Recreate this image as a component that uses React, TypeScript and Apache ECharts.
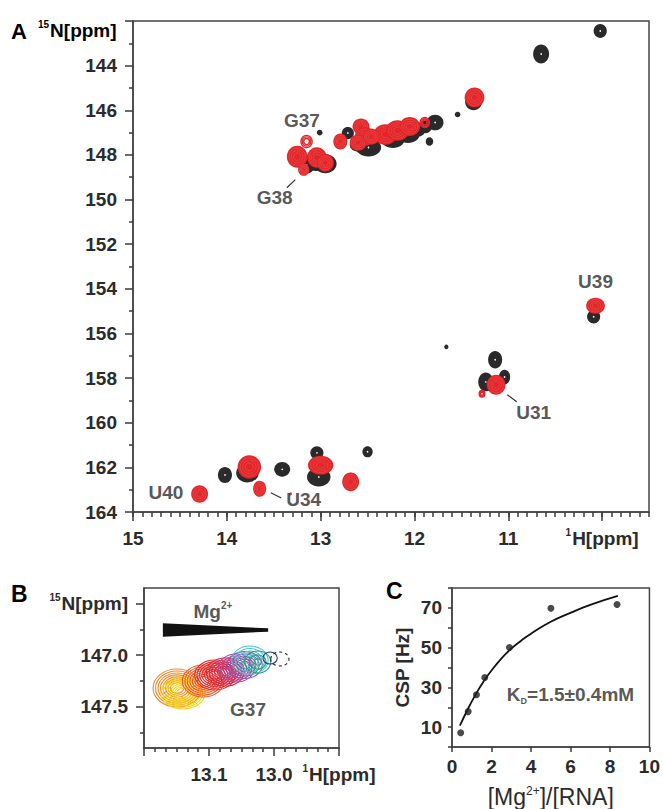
import React, { useEffect, useRef } from 'react';
import * as echarts from 'echarts';

// ---------- Panel A : 1H-15N HSQC overlay ----------
const aXLabels = [10, 11, 12, 13, 14, 15];
const aYLabels = [144, 146, 148, 150, 152, 154, 156, 158, 160, 162, 164];

// [1H ppm, 15N ppm, width 1H ppm, width 15N ppm]
const blackPeaks = [
  [10.02, 142.45, 0.14, 0.62],
  [10.65, 143.48, 0.17, 0.85],
  [11.37, 145.62, 0.18, 0.75],
  [11.54, 146.19, 0.06, 0.25],
  [11.78, 146.55, 0.18, 0.7],
  [11.88, 146.75, 0.13, 0.55],
  [11.84, 147.4, 0.08, 0.38],
  [12.23, 147.31, 0.25, 0.75],
  [12.07, 147.09, 0.25, 0.75],
  [11.97, 146.86, 0.18, 0.65],
  [12.71, 147.02, 0.13, 0.55],
  [12.49, 147.67, 0.27, 0.8],
  [12.6, 147.55, 0.18, 0.62],
  [13.01, 147.0, 0.06, 0.26],
  [12.95, 148.4, 0.24, 0.85],
  [13.05, 148.3, 0.24, 0.85],
  [13.15, 148.45, 0.18, 0.75],
  [14.02, 162.34, 0.15, 0.72],
  [13.78, 162.25, 0.24, 0.85],
  [13.41, 162.09, 0.17, 0.66],
  [13.04, 161.35, 0.14, 0.6],
  [13.02, 162.43, 0.25, 0.85],
  [12.68, 162.6, 0.16, 0.72],
  [12.5, 161.3, 0.11, 0.5],
  [11.14, 157.18, 0.15, 0.78],
  [11.24, 158.17, 0.16, 0.85],
  [11.04, 157.95, 0.12, 0.65],
  [10.09, 155.25, 0.14, 0.6],
  [11.66, 156.6, 0.045, 0.22],
];

// [1H ppm, 15N ppm, width 1H, width 15N, filled(1)/open(0)]
const redPeaks = [
  [11.36, 145.43, 0.21, 0.9, 1],
  [11.89, 146.55, 0.1, 0.45, 0],
  [12.31, 147.09, 0.25, 0.92, 1],
  [12.18, 146.91, 0.25, 0.92, 1],
  [12.05, 146.73, 0.22, 0.85, 1],
  [12.57, 146.73, 0.18, 0.72, 1],
  [12.53, 147.18, 0.21, 0.85, 1],
  [12.6, 147.45, 0.18, 0.72, 1],
  [12.46, 147.18, 0.18, 0.72, 1],
  [12.79, 147.4, 0.15, 0.72, 1],
  [13.15, 147.4, 0.12, 0.55, 0],
  [13.25, 148.08, 0.22, 0.98, 1],
  [13.18, 148.66, 0.12, 0.55, 1],
  [13.04, 148.12, 0.21, 0.92, 1],
  [12.95, 148.35, 0.18, 0.8, 1],
  [14.29, 163.19, 0.18, 0.78, 1],
  [13.76, 161.98, 0.25, 1.05, 1],
  [13.65, 162.96, 0.14, 0.72, 1],
  [13.0, 161.9, 0.27, 0.85, 1],
  [12.68, 162.65, 0.18, 0.85, 1],
  [13.32, 163.19, 0.03, 0.12, 1],
  [11.13, 158.3, 0.2, 0.9, 1],
  [11.28, 158.7, 0.06, 0.3, 0],
  [10.07, 154.76, 0.2, 0.72, 1],
];

const peakLabelNames = ['G37', 'G38', 'U40', 'U34', 'U31', 'U39'];
const peakLabelH = [13.2, 13.49, 14.65, 13.18, 10.73, 10.07];
const peakLabelN = [146.46, 149.91, 163.14, 163.46, 159.55, 153.68];
// [H1, N1, H2, N2]
const leaderLines = [
  [13.36, 149.47, 13.27, 149.11],
  [13.53, 163.14, 13.42, 163.37],
  [11.01, 158.75, 10.91, 159.06],
];

// ---------- Panel B : G37 titration ----------
const bXLabels = [12.9, 13.0, 13.1];
const bYLabels = [146.5, 147.0, 147.5];
const bYMinor = [146.75, 147.25, 147.75];
// [1H, 15N, half-width 1H, half-width 15N, contour levels]
const titrationPeaks = [
  [13.149, 147.319, 0.037, 0.184, 8],
  [13.14, 147.367, 0.034, 0.155, 8],
  [13.109, 147.251, 0.032, 0.155, 7],
  [13.091, 147.193, 0.031, 0.145, 7],
  [13.075, 147.164, 0.029, 0.136, 6],
  [13.058, 147.125, 0.028, 0.136, 6],
  [13.045, 147.096, 0.027, 0.13, 5],
  [13.037, 147.048, 0.028, 0.136, 5],
  [13.025, 147.067, 0.02, 0.107, 3],
  [13.006, 147.028, 0.011, 0.058, 1],
  [12.991, 147.038, 0.014, 0.068, 1],
];
const titrationColors = ['#f08a2c', '#f3d21a', '#ef5a2a', '#e52a2c', '#d22a48', '#b0449a', '#8e55b0', '#4cc6cc', '#22a37a', '#2a35a0', '#222222'];
const wedgeCorners = [
  [13.171, 146.692],
  [13.009, 146.741],
  [13.009, 146.773],
  [13.171, 146.822],
];
const mgLabel = [13.094, 146.58];
const g37Label = [13.04, 147.53];

// ---------- Panel C : CSP binding curve ----------
const ratio = [0.44, 0.82, 1.24, 1.66, 2.91, 5.01, 8.36];
const csp = [7.2, 17.8, 26.3, 35.0, 50.1, 69.8, 71.7];
const fitRatio = [0.4, 0.8, 1.2, 1.6, 2.0, 2.5, 3.0, 3.5, 4.0, 5.0, 6.0, 7.0, 8.4];
const fitCsp = [10.8, 19.0, 26.5, 33.0, 38.5, 44.5, 49.5, 53.5, 57.0, 63.0, 67.5, 71.5, 76.0];
const kdLabelPos = [6.0, 26.3];

const FONT = "'Liberation Sans', Arial, Helvetica, sans-serif";
const TXT = '#2b2b2b';
const AX = '#444444';

const richSup = {
  b: { fontSize: 19, fontWeight: 'bold', color: TXT, fontFamily: FONT, lineHeight: 22 },
  sup: { fontSize: 10, fontWeight: 'bold', color: TXT, fontFamily: FONT, verticalAlign: 'top', lineHeight: 22, padding: [0, 1, 0, 0] },
};

const labelBase = { color: TXT, fontSize: 19, fontWeight: 'bold', fontFamily: FONT, hideOverlap: false, showMinLabel: true, showMaxLabel: true };
const tickLine = { color: '#3a3a3a', width: 1.5 };

function peakRenderer(kind) {
  return (params, api) => {
    const c = api.coord([api.value(0), api.value(1)]);
    const s = api.size([api.value(2), api.value(3)]);
    const rx = Math.abs(s[0]) / 2;
    const ry = Math.abs(s[1]) / 2;
    const children = [];
    if (kind === 'black') {
      children.push({ type: 'ellipse', shape: { cx: c[0], cy: c[1], rx, ry }, style: { fill: '#2a2a2a' } });
      if (rx > 5) children.push({ type: 'circle', shape: { cx: c[0], cy: c[1], r: 0.8 }, style: { fill: '#ffffff' } });
    } else {
      const filled = api.value(4) === 1;
      if (filled) {
        children.push({ type: 'ellipse', shape: { cx: c[0], cy: c[1], rx, ry }, style: { fill: '#e3262a' } });
        for (let k = 1; k <= 3; k++) {
          const f = 1 - k * 0.22;
          children.push({ type: 'ellipse', shape: { cx: c[0], cy: c[1], rx: rx * f, ry: ry * f }, style: { fill: 'none', stroke: '#ec5a58', lineWidth: 0.5 } });
        }
      } else {
        for (let k = 0; k < 3; k++) {
          const f = 1 - k * 0.25;
          children.push({ type: 'ellipse', shape: { cx: c[0], cy: c[1], rx: rx * f, ry: ry * f }, style: { fill: 'none', stroke: '#e3262a', lineWidth: 1.4 } });
        }
      }
    }
    return { type: 'group', children };
  };
}

export default function App() {
  const ref = useRef(null);
  useEffect(() => {
    const chart = echarts.init(ref.current, null, { renderer: 'svg' });

    const aXFmt = (v) => (Math.abs(v - 10) < 1e-6 ? '{sup|1}{b|H[ppm]}' : '{b|' + Math.round(v) + '}');
    const aYFmt = (v) => '{b|' + Math.round(v) + '}';
    const bXFmt = (v) => (Math.abs(v - 12.9) < 1e-6 ? '{sup|1}{b|H[ppm]}' : '{b|' + v.toFixed(1) + '}');
    const bYFmt = (v) => (Math.abs(v - 146.5) < 1e-6 ? '{sup|15}{b|N[ppm]}' : '{b|' + v.toFixed(1) + '}');

    const labelSeries = (xi, yi, data, rich, fmt) => ({
      type: 'scatter', xAxisIndex: xi, yAxisIndex: yi, symbolSize: 1, silent: true,
      itemStyle: { color: 'rgba(0,0,0,0)' },
      label: { show: true, position: 'inside', formatter: fmt || '{b}', color: TXT, fontSize: 19, fontWeight: 'bold', fontFamily: FONT, rich },
      data,
      z: 10,
    });

    const option = {
      animation: false,
      backgroundColor: '#ffffff',
      grid: [
        { left: 133, top: 21, width: 516, height: 491, show: true, borderColor: AX, borderWidth: 1.5, backgroundColor: 'transparent' },
        { left: 144, top: 588, width: 195, height: 160, show: true, borderColor: AX, borderWidth: 1.5, backgroundColor: 'transparent' },
        { left: 452, top: 588, width: 199, height: 163, show: true, borderColor: AX, borderWidth: 1.5, backgroundColor: 'transparent' },
      ],
      xAxis: [
        // A: 0.5 ppm scale steps, minor every 0.1 ppm
        {
          gridIndex: 0, type: 'value', inverse: true, min: 9.5, max: 15, interval: 0.5, position: 'bottom',
          axisLine: { show: true, onZero: false, lineStyle: { color: AX, width: 1.5 } },
          axisTick: { show: true, length: 5, lineStyle: tickLine },
          minorTick: { show: true, splitNumber: 5, length: 5, lineStyle: tickLine },
          axisLabel: { ...labelBase, customValues: aXLabels, margin: 15, formatter: aXFmt, rich: richSup },
          splitLine: { show: false },
        },
        // A: long ticks at integer ppm
        {
          gridIndex: 0, type: 'value', inverse: true, min: 9.5, max: 15, position: 'bottom',
          axisLine: { show: false, onZero: false },
          axisTick: { show: true, length: 9, customValues: aXLabels, lineStyle: tickLine },
          axisLabel: { show: false },
          splitLine: { show: false },
        },
        // B
        {
          gridIndex: 1, type: 'value', inverse: true, min: 12.9, max: 13.2, interval: 0.1, position: 'bottom',
          axisLine: { show: true, onZero: false, lineStyle: { color: AX, width: 1.5 } },
          axisTick: { show: true, length: 8, lineStyle: tickLine },
          minorTick: { show: true, splitNumber: 6, length: 4, lineStyle: tickLine },
          axisLabel: { ...labelBase, customValues: bXLabels, margin: 15, formatter: bXFmt, rich: richSup },
          splitLine: { show: false },
        },
        // C
        {
          gridIndex: 2, type: 'value', min: 0, max: 10, interval: 2, position: 'bottom',
          axisLine: { show: true, onZero: false, lineStyle: { color: AX, width: 1.5 } },
          axisTick: { show: true, length: 5, lineStyle: tickLine },
          axisLabel: { ...labelBase, margin: 10 },
          splitLine: { show: false },
          name: '[Mg{s|2+}]/[RNA]', nameLocation: 'middle', nameGap: 38,
          nameTextStyle: { fontSize: 23, color: TXT, fontFamily: FONT, rich: { s: { fontSize: 12, color: TXT, fontFamily: FONT, verticalAlign: 'top' } } },
        },
      ],
      yAxis: [
        // A
        {
          gridIndex: 0, type: 'value', inverse: true, min: 142, max: 164, interval: 2, position: 'left',
          axisLine: { show: true, onZero: false, lineStyle: { color: AX, width: 1.5 } },
          axisTick: { show: true, length: 8, lineStyle: tickLine },
          minorTick: { show: true, splitNumber: 2, length: 4, lineStyle: tickLine },
          axisLabel: { ...labelBase, customValues: aYLabels, margin: 16, formatter: aYFmt, rich: richSup },
          splitLine: { show: false },
        },
        // B
        {
          gridIndex: 1, type: 'value', inverse: true, min: 146.35, max: 147.9, position: 'left',
          axisLine: { show: true, onZero: false, lineStyle: { color: AX, width: 1.5 } },
          axisTick: { show: true, length: 8, customValues: bYLabels, lineStyle: tickLine },
          axisLabel: { ...labelBase, customValues: bYLabels, margin: 16, formatter: bYFmt, rich: richSup },
          splitLine: { show: false },
        },
        {
          gridIndex: 1, type: 'value', inverse: true, min: 146.35, max: 147.9, position: 'left',
          axisLine: { show: false, onZero: false },
          axisTick: { show: true, length: 4, customValues: bYMinor, lineStyle: tickLine },
          axisLabel: { show: false },
          splitLine: { show: false },
        },
        // C
        {
          gridIndex: 2, type: 'value', min: 0, max: 80, interval: 10, position: 'left',
          axisLine: { show: true, onZero: false, lineStyle: { color: AX, width: 1.5 } },
          axisTick: { show: true, length: 4, lineStyle: tickLine },
          axisLabel: { ...labelBase, margin: 10, formatter: (v) => (v % 20 === 10 ? String(v) : '') },
          splitLine: { show: false },
          name: 'CSP [Hz]', nameLocation: 'middle', nameGap: 40, nameRotate: 90,
          nameTextStyle: { fontSize: 19, fontWeight: 'bold', color: TXT, fontFamily: FONT },
        },
      ],
      graphic: [
        { type: 'text', left: 11, top: 20, style: { text: 'A', font: 'bold 22px ' + FONT, fill: '#000' } },
        { type: 'text', left: 38, top: 19, style: { text: '{sup|15}{b|N[ppm]}', rich: richSup } },
        { type: 'text', left: 11, top: 582, style: { text: 'B', font: 'bold 23px ' + FONT, fill: '#000' } },
        { type: 'text', left: 386, top: 579, style: { text: 'C', font: 'bold 23px ' + FONT, fill: '#000' } },
      ],
      series: [
        {
          type: 'custom', xAxisIndex: 0, yAxisIndex: 0, clip: true, silent: true,
          renderItem: peakRenderer('black'), data: blackPeaks, z: 2,
        },
        {
          type: 'custom', xAxisIndex: 0, yAxisIndex: 0, clip: true, silent: true,
          renderItem: peakRenderer('red'), data: redPeaks, z: 3,
        },
        {
          type: 'custom', xAxisIndex: 0, yAxisIndex: 0, silent: true, z: 4,
          renderItem: (params, api) => {
            const p1 = api.coord([api.value(0), api.value(1)]);
            const p2 = api.coord([api.value(2), api.value(3)]);
            return { type: 'line', shape: { x1: p1[0], y1: p1[1], x2: p2[0], y2: p2[1] }, style: { stroke: '#333', lineWidth: 1.2 } };
          },
          data: leaderLines,
        },
        labelSeries(0, 0, peakLabelNames.map((n, i) => ({ name: n, value: [peakLabelH[i], peakLabelN[i]] }))),
        // Panel B
        {
          type: 'custom', xAxisIndex: 2, yAxisIndex: 1, clip: true, silent: true, z: 2,
          renderItem: (params, api) => {
            const c = api.coord([api.value(0), api.value(1)]);
            const s = api.size([api.value(2), api.value(3)]);
            const rx = Math.abs(s[0]);
            const ry = Math.abs(s[1]);
            const n = api.value(4);
            const idx = params.dataIndex;
            const color = titrationColors[idx];
            const dashed = idx === titrationPeaks.length - 1;
            const children = [];
            for (let k = 0; k < n; k++) {
              const f = n === 1 ? 1 : 1 - k * (0.72 / (n - 1));
              children.push({
                type: 'ellipse', shape: { cx: c[0], cy: c[1], rx: rx * f, ry: ry * f },
                style: { fill: 'none', stroke: color, lineWidth: 1.1, lineDash: dashed ? [3, 3] : null },
              });
            }
            return { type: 'group', children };
          },
          data: titrationPeaks,
        },
        {
          type: 'custom', xAxisIndex: 2, yAxisIndex: 1, silent: true, z: 3,
          renderItem: (params, api) => {
            const pts = wedgeCorners.map((p) => api.coord(p));
            return { type: 'polygon', shape: { points: pts }, style: { fill: '#111' } };
          },
          data: [[wedgeCorners[0][0], wedgeCorners[0][1]]],
        },
        labelSeries(2, 1, [{ name: 'Mg', value: mgLabel }], {
          m: { fontSize: 19, fontWeight: 'bold', color: TXT, fontFamily: FONT, lineHeight: 22 },
          s: { fontSize: 10, fontWeight: 'bold', color: TXT, fontFamily: FONT, verticalAlign: 'top', lineHeight: 22 },
        }, '{m|Mg}{s|2+}'),
        labelSeries(2, 1, [{ name: 'G37', value: g37Label }]),
        // Panel C
        {
          type: 'line', xAxisIndex: 3, yAxisIndex: 3, smooth: true, showSymbol: false, silent: true,
          lineStyle: { color: '#111', width: 1.8 },
          data: fitRatio.map((x, i) => [x, fitCsp[i]]), z: 2,
        },
        {
          type: 'scatter', xAxisIndex: 3, yAxisIndex: 3, symbolSize: 7, silent: true,
          itemStyle: { color: '#1e1e1e' },
          data: ratio.map((x, i) => [x, csp[i]]), z: 3,
        },
        labelSeries(3, 3, [{ name: 'KD', value: kdLabelPos }], {
          k: { fontSize: 19, fontWeight: 'bold', color: TXT, fontFamily: FONT, lineHeight: 22 },
          d: { fontSize: 9, fontWeight: 'bold', color: TXT, fontFamily: FONT, verticalAlign: 'bottom', lineHeight: 22 },
        }, '{k|K}{d|D}{k|=1.5±0.4mM}'),
      ],
    };
    chart.setOption(option);
    return () => chart.dispose();
  }, []);
  return <div ref={ref} style={{ position: 'fixed', left: 0, top: 0, width: 663, height: 809 }} />;
}
